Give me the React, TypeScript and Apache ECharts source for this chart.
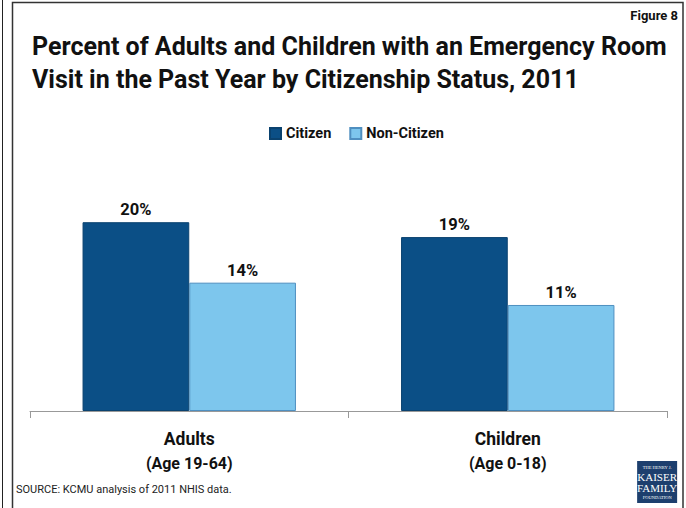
import React, { useEffect, useRef } from "react";
import * as echarts from "echarts";

const categories = ["Adults", "Children"];
const ageRanges = ["(Age 19-64)", "(Age 0-18)"];
const seriesNames = ["Citizen", "Non-Citizen"];
const citizenValues = [20.3, 18.7];
const nonCitizenValues = [13.8, 11.4];

const FONT = "Roboto, 'Noto Sans', sans-serif";

export default function App() {
  const ref = useRef<HTMLDivElement>(null);
  useEffect(() => {
    if (!ref.current) return;
    const chart = echarts.init(ref.current, null, { renderer: "svg" });
    const labelCfg = {
      show: true,
      position: "top",
      distance: 4,
      color: "#111",
      fontWeight: "bold",
      fontSize: 16.5,
      fontFamily: FONT,
      formatter: (p: any) => Math.round(p.value) + "%",
    };
    chart.setOption({
      animation: false,
      backgroundColor: "#fff",
      textStyle: { fontFamily: FONT },
      title: [
        {
          text: "Percent of Adults and Children with an Emergency Room\nVisit in the Past Year by Citizenship Status, 2011",
          left: 32,
          top: 30,
          padding: 0,
          textStyle: { fontSize: 25, fontWeight: "bold", color: "#111", lineHeight: 33, fontFamily: FONT },
        },
        {
          text: "Figure 8",
          right: 8,
          top: 9,
          padding: 0,
          textStyle: { fontSize: 13, fontWeight: "bold", color: "#111", fontFamily: FONT },
        },
        {
          text: "SOURCE: KCMU analysis of 2011 NHIS data.",
          left: 16,
          top: 484,
          padding: 0,
          textStyle: { fontSize: 11, fontWeight: "normal", color: "#222", fontFamily: FONT },
        },
      ],
      legend: {
        left: 264,
        top: 121,
        itemWidth: 11,
        itemHeight: 11,
        itemGap: 18,
        icon: "rect",
        textStyle: { fontSize: 14.5, fontWeight: "bold", color: "#111", fontFamily: FONT },
        data: seriesNames,
      },
      grid: { left: 30, right: 19, top: 178.5, bottom: 97 },
      xAxis: {
        type: "category",
        data: categories,
        axisLine: { lineStyle: { color: "#999", width: 1 } },
        axisTick: { show: true, length: 7, lineStyle: { color: "#999" } },
        axisLabel: {
          margin: 16,
          formatter: (v: string, i: number) => `{a|${v}}\n{b|${ageRanges[i]}}`,
          rich: {
            a: { fontSize: 17.5, fontWeight: "bold", color: "#111", lineHeight: 24, fontFamily: FONT },
            b: { fontSize: 16, fontWeight: "bold", color: "#111", lineHeight: 24, fontFamily: FONT },
          },
        },
      },
      yAxis: { type: "value", min: 0, max: 25, show: false, splitLine: { show: false } },
      series: [
        {
          name: seriesNames[0],
          type: "bar",
          data: citizenValues,
          barGap: "0%",
          barCategoryGap: "33%",
          itemStyle: { color: "#0B4F86", borderColor: "#0a426f", borderWidth: 1 },
          label: labelCfg,
        },
        {
          name: seriesNames[1],
          type: "bar",
          data: nonCitizenValues,
          itemStyle: { color: "#7DC6ED", borderColor: "#4f8fc0", borderWidth: 1 },
          label: labelCfg,
        },
      ],
      graphic: [
        { type: "line", shape: { x1: 2.5, y1: 0, x2: 2.5, y2: 508 }, style: { stroke: "#222", lineWidth: 1 } },
        {
          type: "polyline",
          shape: { points: [[12.5, 508], [12.5, 2.5], [683, 2.5], [683, 508]] },
          style: { stroke: "#333", lineWidth: 1.5, fill: null },
        },
        {
          type: "group",
          left: 637,
          top: 461,
          children: [
            { type: "rect", shape: { x: 0, y: 0, width: 40, height: 42 }, style: { fill: "#1d3f6e" } },
            { type: "text", x: 20, y: 4, style: { text: "THE HENRY J.", fill: "#fff", fontSize: 4.5, fontFamily: "'Liberation Serif', serif", align: "center" } },
            { type: "text", x: 20, y: 10, style: { text: "KAISER", fill: "#fff", fontSize: 11, fontFamily: "'Liberation Serif', serif", align: "center" } },
            { type: "text", x: 20, y: 21, style: { text: "FAMILY", fill: "#fff", fontSize: 11, fontFamily: "'Liberation Serif', serif", align: "center" } },
            { type: "text", x: 20, y: 34, style: { text: "FOUNDATION", fill: "#fff", fontSize: 4.5, fontFamily: "'Liberation Serif', serif", align: "center" } },
          ],
        },
      ],
    });
    return () => chart.dispose();
  }, []);
  return <div ref={ref} style={{ position: "fixed", left: 0, top: 0, width: 686, height: 508 }} />;
}
